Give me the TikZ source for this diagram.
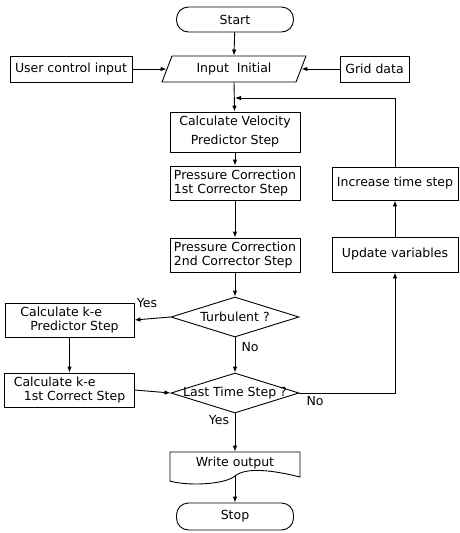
\documentclass[tikz,border=0pt]{standalone}
\usepackage{fontspec}
\setmainfont{DejaVu Sans}
\usetikzlibrary{arrows.meta,shapes.geometric}

\begin{document}
\begin{tikzpicture}[x=1pt,y=-1pt,
  line width=0.9pt,
  font=\fontsize{12.5}{14}\selectfont,
  arr/.style={-{Latex[length=6pt,width=4.5pt]}},
  box/.style={draw,rectangle,inner sep=1pt,minimum width=130pt},
  terminal/.style={draw,rectangle,rounded corners=12pt,minimum width=117pt,minimum height=25pt,inner sep=1pt},
  decision/.style={draw,diamond,inner sep=0pt,minimum width=128pt,minimum height=40pt},
  plain/.style={inner sep=0pt}]

\useasboundingbox (0,0) rectangle (459,533);

% terminals
\node[terminal] (start) at (235,19.5) {Start};
\node[terminal,minimum height=27pt] (stop) at (235,516.5) {Stop};

% inputs
\node[plain,minimum width=134pt,minimum height=26pt] (input) at (234,69) {Input\ \ Initial};
\draw (162,82) -- (172,56) -- (306,56) -- (296,82) -- cycle;
\node[box,minimum width=122pt,minimum height=26pt] (user) at (71,69) {User control input};
\node[box,minimum width=69pt,minimum height=26pt] (grid) at (374.5,69) {Grid data};

% main column
\node[box,minimum height=40pt,align=center] (vel) at (235,132) {Calculate Velocity\\[5pt]Predictor Step};
\node[box,minimum height=34pt,align=left] (p1) at (235,183) {Pressure Correction\\1st Corrector Step};
\node[box,minimum height=34pt,align=left] (p2) at (235,255) {Pressure Correction\\2nd Corrector Step};

\node[decision] (turb) at (235,317) {};
\node[plain] at (turb) {Turbulent ?};
\node[decision] (last) at (235,393) {};
\node[plain] at (last) {Last Time Step ?};

% k-e branch
\node[box,minimum width=129pt,minimum height=34pt,align=left,inner xsep=9pt] (kep) at (69.5,320) {Calculate k-e\\\hspace*{10pt}Predictor Step};
\node[box,minimum width=129pt,minimum height=34pt,align=left,inner xsep=9pt] (kec) at (69.5,390) {Calculate k-e\\\hspace*{10pt}1st Correct Step};

% time loop
\node[box,minimum width=126pt,minimum height=33pt] (inc) at (395,183.5) {Increase time step};
\node[box,minimum width=126pt,minimum height=35pt] (upd) at (395,254.5) {Update variables};

% output document
\node[plain,minimum width=130pt,minimum height=22pt] (write) at (235,463) {Write output};
\draw (170,452) -- (300,452) -- (300,477)
  .. controls (272,470) and (246,467) .. (235,476)
  .. controls (224,485) and (186,486) .. (170,481) -- cycle;
\coordinate (wbot) at (235,476);
\coordinate (merge) at (235,98);

% connectors
\draw[arr] (start) -- (input.north);
\draw[arr] (user) -- (input.west);
\draw[arr] (grid) -- (input.east);
\draw[arr] (input.south) -- (vel);
\draw[arr] (inc.north) |- (merge);
\draw[arr] (vel) -- (p1);
\draw[arr] (p1) -- (p2);
\draw[arr] (p2) -- (turb.north);
\draw[arr] (turb.west) -- (kep.east);
\draw[arr] (turb.south) -- (last.north);
\draw[arr] (kep) -- (kec);
\draw[arr] (kec.east) -- (last.west);
\draw[arr] (last.east) -| (upd.south);
\draw[arr] (upd) -- (inc);
\draw[arr] (last.south) -- (write.north);
\draw[arr] (wbot) -- (stop.north);

% branch labels
\node[plain] at (147,303) {Yes};
\node[plain] at (250,347) {No};
\node[plain] at (315,401) {No};
\node[plain] at (219,420) {Yes};
\end{tikzpicture}
\end{document}
